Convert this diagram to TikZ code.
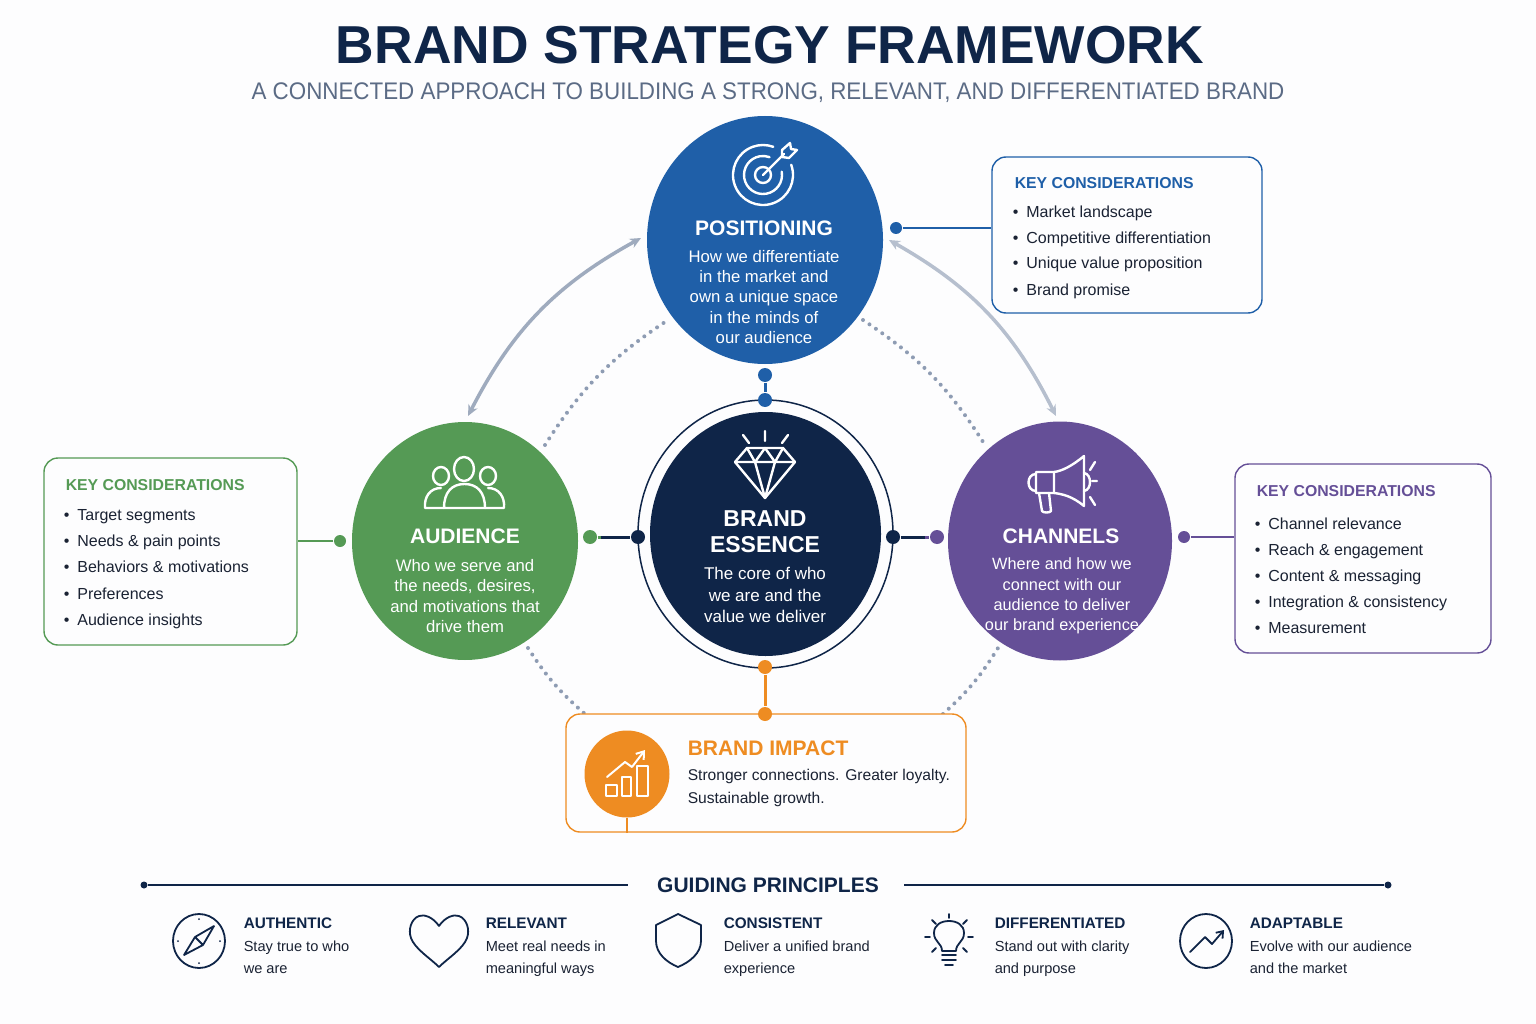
\documentclass[tikz,border=0pt]{standalone}
\usepackage{fontspec}
\setmainfont{Liberation Sans}
\newfontfamily\narrowfont[FakeStretch=0.932]{Liberation Sans}
\usetikzlibrary{calc,arrows.meta,positioning,shapes.geometric}
\definecolor{navyink}{HTML}{0F2548}
\definecolor{slateink}{HTML}{5B6B85}
\definecolor{blueplot}{HTML}{1F5FA8}
\definecolor{greenplot}{HTML}{559A55}
\definecolor{purpleplot}{HTML}{654F97}
\definecolor{orangeplot}{HTML}{EE8C22}
\definecolor{dotgray}{HTML}{8E9CB3}
\definecolor{textink}{HTML}{1A2233}
\definecolor{paperwhite}{HTML}{FDFDFE}
\newcommand{\fsz}[2]{\fontsize{#1}{#2}\selectfont}

\begin{document}
\begin{tikzpicture}[x=1pt,y=-1pt,line width=1.5pt,
disc/.style={ellipse,fill=#1,draw=none,inner sep=0pt},
conndot/.style={circle,fill=#1,inner sep=0pt,minimum size=14pt},
keybox/.style={rounded corners=14pt,draw=#1,fill=paperwhite,line width=1.4pt,inner sep=0pt},
keyhead/.style={anchor=base west,inner sep=0pt,font=\bfseries\fsz{15.8}{20},text=#1},
keyitem/.style={anchor=base west,inner sep=0pt,font=\fsz{16}{18},text=textink},
disctext/.style={align=center,text=white,font=\fsz{16.7}{20.4}},
dischead/.style={align=center,text=white,font=\bfseries\fsz{21}{26}},
whiteicon/.style={draw=white,line width=2.4pt,line cap=round,line join=round},
navyicon/.style={draw=navyink,line width=1.8pt,line cap=round,line join=round},
princhead/.style={anchor=base west,inner sep=0pt,font=\bfseries\fsz{15.3}{20},text=navyink},
princtext/.style={anchor=base west,inner sep=0pt,font=\fsz{14.6}{22},text=textink},
imptext/.style={anchor=base west,inner sep=0pt,font=\fsz{15.6}{23},text=textink},
ringarrow/.style={{Stealth[length=11pt,width=10pt]}-{Stealth[length=11pt,width=10pt]},line width=3.5pt},
dotarc/.style={draw=dotgray,line width=4pt,line cap=round,dash pattern=on 0pt off 7.8pt}]
\fill[paperwhite] (0,0) rectangle (1536,1024);
\useasboundingbox (0,0) rectangle (1536,1024);
\node[font=\bfseries\fsz{53.4}{60},text=navyink] (title) at (770,45) {BRAND STRATEGY FRAMEWORK};
\node[font=\narrowfont\fsz{24}{28},text=slateink] (subtitle) at (768,93) {A CONNECTED APPROACH TO BUILDING A STRONG, RELEVANT, AND DIFFERENTIATED BRAND};

% ring behind the discs
\coordinate (pl) at (668,320);\coordinate (al) at (545,445);\coordinate (pr) at (863,320);\coordinate (cr) at (985,445);
\coordinate (bl) at (528,648);\coordinate (il) at (585,714);\coordinate (br) at (998,648);\coordinate (ir) at (943,714);
\draw[dotarc] (al) to[bend left=12] (pl);\draw[dotarc] (pr) to[bend left=12] (cr);
\draw[dotarc] (bl) to[bend right=8] (il);\draw[dotarc] (ir) to[bend right=8] (br);
\coordinate (aa) at (468,416);\coordinate (ap) at (641,238);\coordinate (pa) at (889,240);\coordinate (ac) at (1056,416);
\draw[ringarrow,draw=dotgray!85] (aa) to[bend left=17] (ap);
\draw[ringarrow,draw=dotgray!65] (pa) to[bend left=17] (ac);

% discs
\node[disc=blueplot,minimum width=236pt,minimum height=248pt] (posdisc) at (765,240) {};
\node[disc=greenplot,minimum width=226pt,minimum height=238pt] (auddisc) at (465,541) {};
\node[disc=purpleplot,minimum width=224pt,minimum height=239pt] (chandisc) at (1060,541) {};
\node[ellipse,draw=navyink,fill=paperwhite,line width=1.5pt,inner sep=0pt,minimum width=255pt,minimum height=268pt] (essring) at (765.5,534) {};
\node[disc=navyink,minimum width=231pt,minimum height=244pt] (essdisc) at (765.5,534) {};

\node[dischead] (poshead) at (764,228) {POSITIONING};
\node[disctext] (postext) at (764,297) {How we differentiate\\in the market and\\own a unique space\\in the minds of\\our audience};
\node[dischead] (audhead) at (465,536) {AUDIENCE};
\node[disctext] (audtext) at (465,596) {Who we serve and\\the needs, desires,\\and motivations that\\drive them};
\node[dischead] (chanhead) at (1061,536) {CHANNELS};
\node[disctext,font=\fsz{16.3}{20.4}] (chantext) at (1062,596) {Where and how we\\connect with our\\audience to deliver\\our brand experience};
\node[dischead,font=\bfseries\fsz{23}{26}] (esshead) at (765,532) {BRAND\\ESSENCE};
\node[disctext,font=\fsz{17}{21.6}] (esstext) at (765,595) {The core of who\\we are and the\\value we deliver};

% connector dots
\node[conndot=blueplot] (d1) at (765,375) {};\node[conndot=blueplot] (d2) at (765,400) {};
\node[conndot=greenplot] (d3) at (590,537) {};\node[conndot=navyink] (d4) at (638,537) {};
\node[conndot=navyink] (d5) at (893,537) {};\node[conndot=purpleplot] (d6) at (937,537) {};
\node[conndot=orangeplot] (d7) at (765,667) {};
\draw[blueplot,line width=3pt] (d1)--(d2);
\coordinate (m1) at (601,537);\coordinate (m2) at (925,537);
\draw[greenplot,line width=3pt] (d3)--(m1);\draw[navyink,line width=3pt] (m1)--(d4);
\draw[navyink,line width=3pt] (d5)--(m2);\draw[purpleplot,line width=3pt] (m2)--(d6);

% key considerations boxes
\node[keybox=blueplot,minimum width=270pt,minimum height=156pt] (posbox) at (1127,235) {};
\node[keybox=greenplot,minimum width=253pt,minimum height=187pt] (audbox) at (170.5,551.5) {};
\node[keybox=purpleplot,minimum width=256pt,minimum height=189pt] (chanbox) at (1363,558.5) {};
\node[conndot=blueplot,minimum size=12pt] (d9) at (896,228) {};\node[conndot=greenplot,minimum size=12pt] (d10) at (340,541) {};\node[conndot=purpleplot,minimum size=12pt] (d11) at (1184,537) {};
\draw[blueplot] (d9)--(d9-|posbox.west);\draw[greenplot] (d10)--(d10-|audbox.east);\draw[purpleplot] (d11)--(d11-|chanbox.west);
\node[keyhead=blueplot] (poskey) at (1014,189) {KEY CONSIDERATIONS};
\node[keyhead=greenplot] (audkey) at (65,490) {KEY CONSIDERATIONS};
\node[keyhead=purpleplot] (chankey) at (1256,496) {KEY CONSIDERATIONS};
\foreach \y/\t in {218/Market landscape,244/Competitive differentiation,269/Unique value proposition,295/Brand promise}{\node[keyitem] at (1012,\y) {\textbullet\hspace{8pt}\t};}
\foreach \y/\t in {520/Target segments,546/Needs \& pain points,572/Behaviors \& motivations,599/Preferences,625/Audience insights}{\node[keyitem] at (63,\y) {\textbullet\hspace{8pt}\t};}
\foreach \y/\t in {529/Channel relevance,555/Reach \& engagement,581/Content \& messaging,607/Integration \& consistency,633/Measurement}{\node[keyitem] at (1254,\y) {\textbullet\hspace{8pt}\t};}

% impact box
\node[keybox=orangeplot,minimum width=400pt,minimum height=118pt] (impbox) at (766,773) {};
\node[conndot=orangeplot] (d8) at (765,714) {};
\draw[orangeplot,line width=3pt] (d7)--(d8);
\node[disc=orangeplot,minimum width=85pt,minimum height=87pt] (impdisc) at (627,774) {};
\draw[orangeplot,line width=2.5pt] (impdisc)--(impdisc|-impbox.south);
\node[anchor=base west,inner sep=0pt,font=\bfseries\fsz{21}{24},text=orangeplot] (imphead) at (687,755) {BRAND IMPACT};
\node[imptext] (imptop) at (687,780) {Stronger connections. Greater loyalty.};
\node[imptext] (impbot) at (687,803) {Sustainable growth.};

% icons in the discs
\draw[whiteicon] ([shift={(-20:30)}]763,175) arc[start angle=-20,end angle=290,radius=30];
\draw[whiteicon] ([shift={(-10:19)}]763,175) arc[start angle=-10,end angle=290,radius=19];
\draw[whiteicon] (763,175) circle[radius=8];
\draw[whiteicon] (763,175)--(784,154);
\draw[whiteicon] (782,150)--(790,143)--(791,149)--(797,150)--(789,158)--(782,157)--cycle;
\foreach \cx/\cy/\rx/\ry in {464/469/10/12,441/476/8/9,488/476/8/9}{\draw[whiteicon] (\cx,\cy) ellipse[x radius=\rx,y radius=\ry];}
\draw[whiteicon] (444,508) .. controls (444,492) and (452,484) .. (464.5,484) .. controls (477,484) and (485,492) .. (485,508) -- cycle;
\draw[whiteicon] (444,508)--(425,508) .. controls (424,497) and (430,488) .. (441,488);
\draw[whiteicon] (485,508)--(504,508) .. controls (505,497) and (499,488) .. (488,488);
\draw[whiteicon] (747,448)--(783,448)--(795,462)--(765,498)--(735,462)--cycle;
\draw[whiteicon] (735,462)--(795,462) (747,448)--(755,462)--(765,448)--(775,462)--(783,448) (755,462)--(765,498)--(775,462);
\draw[whiteicon] (765,431)--(765,441) (743,435)--(749,443) (788,435)--(782,443);
\draw[whiteicon] (1084,456)--(1084,506) .. controls (1072,496) and (1062,494) .. (1054,493)--(1036,493)--(1036,472)--(1054,472) .. controls (1062,471) and (1072,466) .. (1084,456);
\draw[whiteicon] (1054,472)--(1054,493) (1036,474) .. controls (1026,474) and (1026,491) .. (1036,491);
\draw[whiteicon] (1039,493)--(1042,511) .. controls (1043,513) and (1050,513) .. (1051,511)--(1049,493);
\draw[whiteicon] (1084,473) .. controls (1092,474) and (1092,490) .. (1084,491);
\draw[whiteicon] (1095,462)--(1090,470) (1092,481)--(1097,481) (1090,497)--(1095,505);
\draw[whiteicon,line width=2pt] (606,785) rectangle (617,796) (622,777) rectangle (631,796) (637,766) rectangle (648,796);
\draw[whiteicon,-{Straight Barb[length=7pt,width=10pt]},line width=2pt] (607,777)--(625,762)--(632,767)--(645,750);

% guiding principles
\node[font=\bfseries\fsz{21}{24},text=navyink] (guide) at (768,885) {GUIDING PRINCIPLES};
\node[conndot=navyink,minimum size=7pt] (gl) at (144,885) {};\node[conndot=navyink,minimum size=7pt] (gr) at (1388,885) {};
\coordinate (gl2) at (628,885);\coordinate (gr2) at (904,885);
\draw[navyink] (gl)--(gl2);\draw[navyink] (gr2)--(gr);
\foreach \n/\x/\t/\u/\v in {auth/243/AUTHENTIC/Stay true to who/we are,rele/485/RELEVANT/Meet real needs in/meaningful ways,cons/723/CONSISTENT/Deliver a unified brand/experience,diff/994/DIFFERENTIATED/Stand out with clarity/and purpose,adap/1249/ADAPTABLE/Evolve with our audience/and the market}{
\node[princhead] (\n) at (\x,928) {\t};
\node[princtext] (\n t) at (\x,951) {\u};
\node[princtext] (\n b) at (\x,973) {\v};}
\draw[navyicon] (199,941) ellipse[x radius=26,y radius=27];
\draw[navyicon] (214,926)--(203,945)--(184,955)--(195,937)--cycle (195,937)--(203,945);
\foreach \a/\b in {199/919,199/963,178/941,220/941}{\fill[navyink] (\a,\b) circle[radius=1];}
\draw[navyicon] (439,926) .. controls (433,917) and (424,914) .. (419,916) .. controls (411,919) and (408,930) .. (411,938) .. controls (415,949) and (430,958) .. (439,967) .. controls (448,958) and (463,949) .. (467,938) .. controls (470,930) and (467,919) .. (459,916) .. controls (454,914) and (445,917) .. (439,926);
\draw[navyicon] (678,914)--(701,925)--(701,941) .. controls (701,953) and (690,962) .. (678,967) .. controls (666,962) and (656,953) .. (656,941)--(656,925)--cycle;
\draw[navyicon] (942,951) .. controls (942,943) and (934,942) .. (934,933) .. controls (934,925) and (941,921) .. (949,921) .. controls (957,921) and (964,925) .. (964,933) .. controls (964,942) and (956,943) .. (956,951)--cycle;
\draw[navyicon] (942,955)--(956,955) (942,960)--(956,960) (945,965)--(953,965);
\draw[navyicon] (949,914)--(949,918) (925,937)--(930,937) (968,937)--(973,937) (932,920)--(936,924) (967,920)--(963,924) (932,952)--(936,948) (967,952)--(963,948);
\draw[navyicon] (1206,941) ellipse[x radius=26,y radius=27];
\draw[navyicon,-{Straight Barb[length=6pt,width=9pt]}] (1190,952)--(1205,937)--(1212,944)--(1224,930);
\end{tikzpicture}
\end{document}
